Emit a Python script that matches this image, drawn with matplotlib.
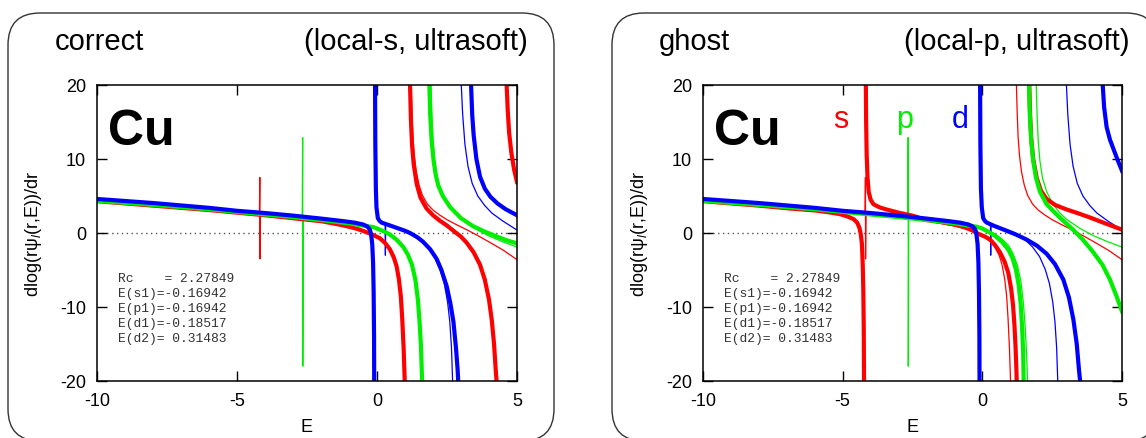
import numpy as np
import matplotlib.pyplot as plt
from matplotlib.patches import FancyBboxPatch

plt.rcParams['font.family'] = ['Liberation Sans', 'DejaVu Sans']
plt.rcParams['mathtext.fontset'] = 'custom'
plt.rcParams['mathtext.rm'] = 'Liberation Sans'
plt.rcParams['mathtext.it'] = 'Liberation Sans:italic'
plt.rcParams['axes.unicode_minus'] = False

nan = np.nan

# all-electron log derivatives (thin lines), identical in both panels
ae_s = [(-10, 4.3), (-8, 3.7), (-6, 3.1), (-5, 2.75), (-4.5, 2.6), (-4.2, 2.5),
        (-4.185, 7.5), (-4.18, -3.5), (-4.165, 2.45), (-3, 2.05), (-2, 1.65),
        (-1.3, 1.15), (-1.0, 0.95), (-0.7, 0.65), (-0.4, 0.25), (-0.15, -0.15),
        (0.1, -0.6), (0.3, -1.2), (0.46, -2.0), (0.6, -3.0), (0.7, -4.2),
        (0.8, -6.2), (0.87, -8.5), (0.92, -11.5), (0.97, -15.5), (1.01, -20),
        (1.04, -25),
        (nan, nan),
        (1.20, 25), (1.22, 20), (1.25, 16), (1.28, 13), (1.33, 10.5), (1.4, 8.3),
        (1.5, 6.5), (1.62, 5.1), (1.8, 3.9), (2.0, 3.1), (2.25, 2.4), (2.5, 1.8),
        (2.8, 1.2), (3.2, 0.45), (3.6, -0.35), (4.0, -1.2), (4.5, -2.3), (5.0, -3.6)]
ae_p = [(-10, 4.35), (-8, 3.8), (-6, 3.2), (-5, 2.85), (-4, 2.5), (-3, 2.2),
        (-2.67, 2.1), (-2.655, 12.9), (-2.65, -18), (-2.635, 2.05), (-2, 1.75),
        (-1, 1.3), (-0.5, 1.0), (-0.13, 0.8), (0.2, 0.35), (0.46, -0.15),
        (0.7, -0.8), (0.94, -1.7), (1.1, -2.8), (1.25, -4.3), (1.38, -6.5),
        (1.47, -9.5), (1.53, -12.5), (1.58, -16), (1.62, -20), (1.65, -25),
        (nan, nan),
        (1.90, 25), (1.93, 20), (1.96, 16), (2.0, 12.5), (2.06, 9.8), (2.15, 7.5),
        (2.3, 5.6), (2.5, 4.1), (2.75, 2.8), (3.0, 1.9), (3.5, 0.6), (4.0, -0.4),
        (4.5, -1.2), (5.0, -1.9)]
ae_d = [(-10, 4.6), (-8, 4.05), (-6, 3.4), (-5, 3.0), (-4, 2.7), (-3, 2.35),
        (-2, 1.95), (-1.2, 1.6), (-0.5, 1.15), (-0.3, 0.8), (-0.2, 0.4),
        (-0.15, -4.5),
        (nan, nan),
        (-0.08, 25), (-0.07, 20), (-0.06, 12), (-0.04, 6), (-0.02, 3.5),
        (0.03, 2.0), (0.1, 1.6), (0.17, 1.4), (0.29, 1.15), (0.30, -3.0),
        (0.31, 1.1), (0.5, 0.9), (0.8, 0.55), (1.18, 0.0), (1.5, -0.8),
        (1.8, -1.9), (2.05, -3.2), (2.25, -4.9), (2.4, -6.8), (2.52, -9.3),
        (2.6, -12), (2.66, -15.5), (2.7, -20), (2.73, -25),
        (nan, nan),
        (2.98, 25), (3.01, 20), (3.06, 16), (3.14, 12), (3.25, 9.0), (3.4, 6.7),
        (3.6, 5.0), (3.85, 3.7), (4.1, 2.7), (4.5, 1.6), (5.0, 0.4)]

# pseudopotential log derivatives (thick lines), local-s
us_s_locs = [(-10, 4.3), (-8, 3.7), (-6, 3.1), (-5, 2.75), (-4, 2.4), (-3, 2.0),
             (-2, 1.6), (-1.3, 1.1), (-1.0, 0.85), (-0.7, 0.55), (-0.4, 0.15),
             (-0.15, -0.25), (0.1, -0.7), (0.3, -1.4), (0.46, -2.2), (0.6, -3.3),
             (0.7, -4.5), (0.78, -6.2), (0.85, -8.5), (0.9, -11.5), (0.95, -15.5),
             (0.99, -20), (1.02, -25),
             (nan, nan),
             (1.16, 25), (1.18, 20), (1.21, 15.5), (1.25, 12), (1.31, 9.3),
             (1.42, 6.6), (1.55, 4.8), (1.77, 3.3), (2.0, 2.4), (2.25, 1.65),
             (2.5, 1.0), (2.73, 0.3), (3.0, -0.5), (3.2, -1.3), (3.45, -2.6),
             (3.68, -4.3), (3.85, -6.3), (4.0, -9.0), (4.1, -11.8), (4.18, -15),
             (4.24, -18.5), (4.27, -20), (4.3, -25),
             (nan, nan),
             (4.6, 25), (4.63, 20), (4.67, 16.5), (4.72, 13.5), (4.8, 10.8),
             (4.9, 8.5), (5.0, 6.9)]
us_p_locs = [(-10, 4.35), (-8, 3.8), (-6, 3.2), (-5, 2.85), (-4, 2.5), (-3, 2.15),
             (-2, 1.75), (-1, 1.3), (-0.5, 1.0), (-0.13, 0.8), (0.2, 0.3),
             (0.46, -0.2), (0.7, -0.9), (0.94, -1.9), (1.1, -2.9), (1.25, -4.3),
             (1.37, -6.3), (1.46, -9.0), (1.52, -12), (1.57, -15.3), (1.61, -20),
             (1.64, -25),
             (nan, nan),
             (1.85, 25), (1.87, 20), (1.9, 16), (1.95, 12.5), (2.02, 9.8),
             (2.1, 7.8), (2.19, 6.4), (2.35, 5.0), (2.61, 3.5), (3.0, 2.0),
             (3.44, 0.9), (3.9, 0.1), (4.27, -0.45), (4.6, -0.95), (5.0, -1.4)]
us_d_locs = [(-10, 4.6), (-8, 4.05), (-6, 3.4), (-5, 3.0), (-4, 2.7), (-3, 2.35),
             (-2, 1.95), (-1.2, 1.6), (-0.8, 1.4), (-0.5, 1.15), (-0.35, 0.9),
             (-0.26, 0.5), (-0.21, -0.2), (-0.17, -1.5), (-0.14, -4.0),
             (-0.12, -8), (-0.105, -14), (-0.1, -20), (-0.09, -25),
             (nan, nan),
             (-0.08, 25), (-0.07, 20), (-0.06, 12), (-0.04, 6), (-0.02, 3.5),
             (0.03, 2.0), (0.1, 1.6), (0.17, 1.4), (0.4, 1.1), (0.7, 0.7),
             (1.0, 0.3), (1.18, 0.0), (1.45, -0.6), (1.65, -1.2), (1.9, -2.2),
             (2.13, -3.5), (2.3, -5.0), (2.49, -7.2), (2.62, -9.5), (2.73, -12),
             (2.82, -15.5), (2.88, -18.5), (2.9, -20), (2.93, -25),
             (nan, nan),
             (3.33, 25), (3.36, 20), (3.40, 16), (3.45, 13.3), (3.55, 10.0),
             (3.68, 7.6), (3.85, 6.0), (4.05, 4.9), (4.3, 4.0), (4.6, 3.2),
             (5.0, 2.4)]

# pseudopotential log derivatives (thick lines), local-p: ghost in s
us_s_locp = [(-10, 4.3), (-8, 3.7), (-7, 3.35), (-6, 3.05), (-5.5, 2.8),
             (-5.1, 2.55), (-4.8, 2.2), (-4.6, 1.85), (-4.48, 1.4), (-4.40, 0.7),
             (-4.35, -0.2), (-4.31, -1.5), (-4.28, -4.5), (-4.26, -8),
             (-4.245, -13), (-4.235, -20), (-4.23, -25),
             (nan, nan),
             (-4.18, 25), (-4.17, 20), (-4.16, 15), (-4.14, 10.5), (-4.11, 7.5),
             (-4.07, 5.6), (-4.0, 4.5), (-3.9, 3.9), (-3.7, 3.5), (-3.5, 3.25),
             (-3.0, 2.75), (-2.5, 2.35), (-2, 1.75), (-1.5, 1.5), (-1.0, 1.15),
             (-0.6, 0.75), (-0.35, 0.35), (-0.15, -0.1), (0.1, -0.5), (0.28, -0.9),
             (0.45, -1.6), (0.63, -2.6), (0.8, -3.9), (0.93, -5.4), (1.03, -7.5),
             (1.1, -9.8), (1.15, -12.5), (1.19, -15.5), (1.22, -18.5), (1.23, -20),
             (1.25, -25),
             (nan, nan),
             (1.65, 25), (1.68, 20), (1.71, 16), (1.75, 12.8), (1.82, 10),
             (1.95, 7.4), (2.1, 5.7), (2.3, 4.6), (2.6, 3.8), (3.0, 3.2),
             (3.4, 2.7), (3.85, 2.1), (4.4, 1.3), (5.0, 0.45)]
us_p_locp = [(-10, 4.35), (-8, 3.8), (-6, 3.2), (-5, 2.85), (-4, 2.5), (-3, 2.15),
             (-2, 1.75), (-1, 1.3), (-0.5, 1.0), (-0.2, 0.85), (0.0, 0.6),
             (0.25, 0.1), (0.46, -0.4), (0.7, -1.2), (0.94, -2.3), (1.08, -3.4),
             (1.2, -4.9), (1.3, -7.0), (1.37, -9.5), (1.42, -12.5), (1.46, -16),
             (1.48, -20), (1.5, -25),
             (nan, nan),
             (1.65, 25), (1.67, 20), (1.70, 16), (1.75, 12.5), (1.82, 9.8),
             (1.92, 7.5), (2.06, 5.6), (2.3, 3.9), (2.66, 2.5), (3.0, 1.3),
             (3.26, 0.4), (3.6, -0.9), (3.97, -2.6), (4.3, -4.3), (4.57, -6.3),
             (4.8, -8.5), (5.0, -10.6)]
us_d_locp = [(-10, 4.6), (-8, 4.05), (-6, 3.4), (-5, 3.0), (-4, 2.7), (-3, 2.35),
             (-2, 1.95), (-1.2, 1.6), (-0.8, 1.4), (-0.5, 1.15), (-0.35, 0.9),
             (-0.26, 0.5), (-0.21, -0.2), (-0.17, -1.5), (-0.14, -4.0),
             (-0.12, -8), (-0.105, -14), (-0.1, -20), (-0.09, -25),
             (nan, nan),
             (-0.09, 25), (-0.08, 20), (-0.07, 12), (-0.05, 6), (-0.02, 3.5),
             (0.03, 2.0), (0.1, 1.6), (0.16, 1.4), (0.4, 1.0), (0.87, 0.3),
             (1.2, -0.2), (1.59, -0.9), (1.95, -1.7), (2.3, -2.8), (2.6, -4.2),
             (2.9, -6.3), (3.1, -8.7), (3.26, -11.7), (3.38, -15), (3.46, -18.5),
             (3.5, -20), (3.53, -25),
             (nan, nan),
             (4.28, 25), (4.31, 20), (4.36, 17), (4.45, 14.3), (4.57, 12.6),
             (4.69, 11.4), (4.85, 9.8), (5.0, 8.4)]

info_lines = ['Rc    = 2.27849', 'E(s1)=-0.16942', 'E(p1)=-0.16942',
              'E(d1)=-0.18517', 'E(d2)= 0.31483']
xticks = [-10, -5, 0, 5]
yticks = [-20, -10, 0, 10, 20]

RED, GREEN, BLUE = '#ff0000', '#00ee00', '#0000ff'

W, H = 1146, 439
fig = plt.figure(figsize=(W / 100, H / 100), dpi=100)

# background layer in pixel units for the rounded frames and headers
bg = fig.add_axes([0, 0, 1, 1])
bg.set_xlim(0, W)
bg.set_ylim(H, 0)
bg.axis('off')
for x0, left_txt, right_txt, right_end in [(8, 'correct', '(local-s, ultrasoft)', 528),
                                           (612, 'ghost', '(local-p, ultrasoft)', 1130)]:
    box = FancyBboxPatch((x0, 14), 546, 428,
                         boxstyle='round,pad=0,rounding_size=32',
                         fc='white', ec='#333333', lw=1.0)
    bg.add_patch(box)
    bg.text(x0 + 47, 50, left_txt, fontsize=21, ha='left', va='baseline')
    bg.text(right_end, 50, right_txt, fontsize=21, ha='right', va='baseline')


def draw_panel(ax, thick):
    ax.axhline(0, color='#555555', lw=1.0, ls=(0, (1, 2.5)), zorder=1)
    for pts, c in [(ae_s, RED), (ae_p, GREEN), (ae_d, BLUE)]:
        e, y = np.array(pts).T
        ax.plot(e, y, color=c, lw=0.9, zorder=2)
    for pts, c in zip(thick, [RED, GREEN, BLUE]):
        e, y = np.array(pts).T
        ax.plot(e, y, color=c, lw=3.0, zorder=3, solid_joinstyle='round')
    ax.set_xlim(-10, 5)
    ax.set_ylim(-20, 20)
    ax.set_xticks(xticks)
    ax.set_yticks(yticks)
    ax.tick_params(direction='in', length=7, width=1.0, top=True, right=True,
                   labelsize=13, pad=8)
    for s in ax.spines.values():
        s.set_linewidth(1.1)
        s.set_zorder(5)
    ax.set_xlabel('E', fontsize=13, va='baseline')
    ax.xaxis.set_label_coords(0.5, -0.169)
    ax.set_ylabel(r'dlog(r$\mathregular{\psi}_{\mathit{l}}$(r,E))/dr', fontsize=13)
    ax.yaxis.set_label_coords(-0.127, 0.5)
    ax.text(0.027, 0.80, 'Cu', transform=ax.transAxes, fontsize=36,
            fontweight='bold', ha='left', va='baseline')
    for i, line in enumerate(info_lines):
        ax.text(0.05, (382 - 279 - 15 * i) / 296, line, transform=ax.transAxes,
                family='Liberation Mono', fontsize=9.4, color='#333333',
                ha='left', va='center')


ax1 = fig.add_axes([97 / W, (H - 382) / H, 420 / W, 296 / H])
draw_panel(ax1, [us_s_locs, us_p_locs, us_d_locs])

ax2 = fig.add_axes([703 / W, (H - 382) / H, 419 / W, 296 / H])
draw_panel(ax2, [us_s_locp, us_p_locp, us_d_locp])
for lab, e, c in [('s', -5.06, RED), ('p', -2.77, GREEN), ('d', -0.8, BLUE)]:
    ax2.text(e, 14.3, lab, color=c, fontsize=22, ha='center', va='baseline')

fig.savefig('out.png', dpi=100)
